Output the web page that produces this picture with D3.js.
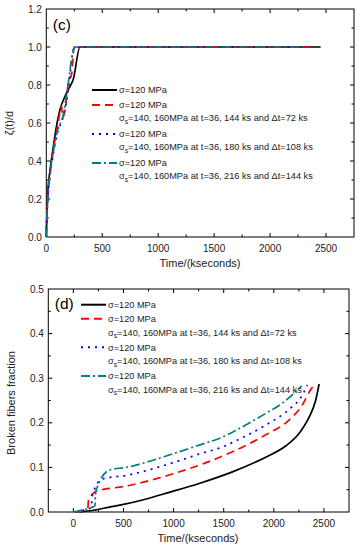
<!DOCTYPE html>
<html>
<head>
<meta charset="utf-8">
<script src="https://cdn.jsdelivr.net/npm/d3@7"></script>
<style>
  html, body { margin: 0; padding: 0; background: #fff; }
  svg { display: block; font-family: "Liberation Sans", Arial, sans-serif; }
</style>
</head>
<body>
<svg id="chart" width="361" height="550"></svg>
<script>
// ---------- Data: panel (c) ----------
const cXTicks = [0, 500, 1000, 1500, 2000, 2500];
const cYTicks = [0.0, 0.2, 0.4, 0.6, 0.8, 1.0, 1.2];
const cSolid  = [[0,0],[5,0.12],[15,0.25],[33,0.35],[63,0.476],[90,0.58],[122,0.67],[167,0.74],[200,0.78],[241,0.83],[301,1.0],[2452,1.0]];
const cDashed = [[0,0],[5,0.1],[15,0.22],[33,0.33],[63,0.46],[100,0.58],[137,0.687],[146,0.63],[173,0.687],[197,0.81],[227,0.86],[248,1.0],[2372,1.0]];
const cDotted = [[0,0],[5,0.1],[15,0.22],[33,0.32],[63,0.44],[100,0.55],[152,0.634],[197,0.78],[241,0.985],[250,1.0],[2290,1.0]];
const cDashDot= [[0,0],[5,0.1],[15,0.22],[33,0.33],[63,0.45],[100,0.56],[150,0.64],[182,0.75],[241,0.98],[257,1.0],[2294,1.0]];

// ---------- Data: panel (d) ----------
const dXTicks = [0, 500, 1000, 1500, 2000, 2500];
const dYTicks = [0.0, 0.1, 0.2, 0.3, 0.4, 0.5];
const dSolid  = [[60,0],[200,0.004],[359,0.011],[500,0.017],[690,0.027],[956,0.044],[1255,0.064],[1587,0.09],[1919,0.123],[2118,0.148],[2251,0.176],[2351,0.212],[2417,0.25],[2452,0.287]];
const dDashed = [[30,0],[100,0.003],[144,0.006],[150,0.025],[216,0.045],[250,0.048],[500,0.057],[956,0.083],[1305,0.109],[1587,0.135],[1919,0.173],[2151,0.206],[2284,0.24],[2367,0.274],[2417,0.289]];
const dDotted = [[20,0],[120,0.005],[180,0.01],[186,0.035],[288,0.074],[525,0.082],[1000,0.111],[1255,0.13],[1500,0.147],[1587,0.156],[1919,0.195],[2151,0.23],[2284,0.262],[2334,0.285]];
const dDashDot= [[0,0],[100,0.005],[180,0.01],[216,0.014],[222,0.045],[360,0.094],[525,0.1],[1000,0.131],[1255,0.15],[1500,0.169],[1587,0.179],[1919,0.221],[2085,0.244],[2251,0.277],[2278,0.283]];

// ---------- Legend text ----------
const legendMain = ["σ=120 MPa", "σ=120 MPa", "σ=120 MPa", "σ=120 MPa"];
const legendSub  = [null, ", 160MPa at t=36, 144 ks and Δt=72 ks", ", 160MPa at t=36, 180 ks and Δt=108 ks", ", 160MPa at t=36, 216 ks and Δt=144 ks"];
const seriesColors = ["#000000", "#ff0000", "#0000ff", "#008080"];
const seriesDash   = [null, "8,5", "2,5", "9,3,2,3"];

const svg = d3.select("#chart");

function drawPanel(o) {
  const x = d3.scaleLinear().domain(o.xDomain).range([o.left, o.right]);
  const y = d3.scaleLinear().domain(o.yDomain).range([o.bottom, o.top]);
  const g = svg.append("g");

  // frame
  g.append("rect").attr("x", o.left).attr("y", o.top)
    .attr("width", o.right - o.left).attr("height", o.bottom - o.top)
    .attr("fill", "none").attr("stroke", "#000").attr("stroke-width", 1);

  // ticks (inward, all sides)
  const xMajor = d3.range(o.xDomain[0], o.xDomain[1] + 1, o.xMinorStep);
  xMajor.forEach(v => {
    const isMajor = Math.abs(v % o.xMajorStep) < 1e-6;
    const len = isMajor ? 4 : 2.5;
    const px = x(v);
    if (px <= o.left + 0.5 || px >= o.right - 0.5) return;
    g.append("line").attr("x1", px).attr("x2", px).attr("y1", o.bottom).attr("y2", o.bottom - len).attr("stroke", "#000");
    g.append("line").attr("x1", px).attr("x2", px).attr("y1", o.top).attr("y2", o.top + len).attr("stroke", "#000");
  });
  const yVals = d3.range(0, Math.round((o.yDomain[1] - o.yDomain[0]) / o.yMinorStep) + 1).map(i => o.yDomain[0] + i * o.yMinorStep);
  yVals.forEach((v, i) => {
    const isMajor = (i % o.yMinorPer) === 0;
    const len = isMajor ? 4 : 2.5;
    const py = y(v);
    if (py >= o.bottom - 0.5 || py <= o.top + 0.5) return;
    g.append("line").attr("y1", py).attr("y2", py).attr("x1", o.left).attr("x2", o.left + len).attr("stroke", "#000");
    g.append("line").attr("y1", py).attr("y2", py).attr("x1", o.right).attr("x2", o.right - len).attr("stroke", "#000");
  });

  // tick labels
  g.selectAll(".xt").data(o.xTicks).enter().append("text")
    .attr("x", d => x(d)).attr("y", o.bottom + 14.5)
    .attr("text-anchor", "middle").attr("font-size", 10).attr("fill", "#222")
    .text(d => d);
  g.selectAll(".yt").data(o.yTicks).enter().append("text")
    .attr("x", o.left - 4.5).attr("y", d => y(d) + 3.5)
    .attr("text-anchor", "end").attr("font-size", 10).attr("fill", "#222")
    .text(d => d.toFixed(1));

  // axis titles
  g.append("text").attr("x", o.xTitleX).attr("y", o.bottom + 30)
    .attr("text-anchor", "middle").attr("font-size", 11).attr("fill", "#222")
    .text("Time/(kseconds)");
  g.append("text").attr("transform", `translate(${o.yTitleX},${o.yTitleY}) rotate(-90)`)
    .attr("text-anchor", "middle").attr("font-size", 11).attr("fill", "#222")
    .text(o.yTitle);

  // panel label
  g.append("text").attr("x", o.left + 6.5).attr("y", o.labelY)
    .attr("font-size", 15.5).attr("fill", "#000").text(o.label);

  // lines
  const line = d3.line().x(d => x(d[0])).y(d => y(d[1])).curve(d3.curveMonotoneX);
  o.series.forEach((s, i) => {
    g.append("path").datum(s).attr("d", line)
      .attr("fill", "none").attr("stroke", seriesColors[i]).attr("stroke-width", 1.7)
      .attr("stroke-dasharray", seriesDash[i]);
  });

  // legend
  const rowMain = o.legendRows;
  for (let i = 0; i < 4; i++) {
    const ry = rowMain[i];
    g.append("line").attr("x1", o.legX0).attr("x2", o.legX1).attr("y1", ry).attr("y2", ry)
      .attr("stroke", seriesColors[i]).attr("stroke-width", 2).attr("stroke-dasharray", seriesDash[i]);
    g.append("text").attr("x", o.legX1 + 2).attr("y", ry + 3.3)
      .attr("font-size", 9.2).attr("fill", "#222").text(legendMain[i]);
    if (legendSub[i]) {
      const t = g.append("text").attr("x", o.legX1 + 2).attr("y", ry + o.subGap + 3.3)
        .attr("font-size", 9.2).attr("fill", "#222");
      t.append("tspan").text("σ");
      t.append("tspan").attr("font-size", 6.8).attr("dy", 2.5).text("s");
      t.append("tspan").attr("dy", -2.5).text("=140" + legendSub[i]);
    }
  }
}

drawPanel({
  xDomain: [0, 2750], yDomain: [0, 1.2],
  left: 46.3, right: 354, top: 9, bottom: 237,
  xMajorStep: 500, xMinorStep: 250, yMinorStep: 0.1, yMinorPer: 2,
  xTicks: cXTicks, yTicks: cYTicks,
  xTitleX: 200, yTitle: "ζ(t)/d", yTitleX: 13, yTitleY: 123,
  label: "(c)", labelY: 30,
  series: [cSolid, cDashed, cDotted, cDashDot],
  legendRows: [90, 105, 134, 163], subGap: 13,
  legX0: 92, legX1: 117
});

drawPanel({
  xDomain: [-250, 2750], yDomain: [0, 0.5],
  left: 48.3, right: 349, top: 289, bottom: 512,
  xMajorStep: 500, xMinorStep: 250, yMinorStep: 0.05, yMinorPer: 2,
  xTicks: dXTicks, yTicks: dYTicks,
  xTitleX: 198, yTitle: "Broken fibers fraction", yTitleX: 15, yTitleY: 403,
  label: "(d)", labelY: 309,
  series: [dSolid, dDashed, dDotted, dDashDot],
  legendRows: [304.7, 318.7, 347.3, 376], subGap: 13.5,
  legX0: 81, legX1: 106
});
</script>
</body>
</html>
